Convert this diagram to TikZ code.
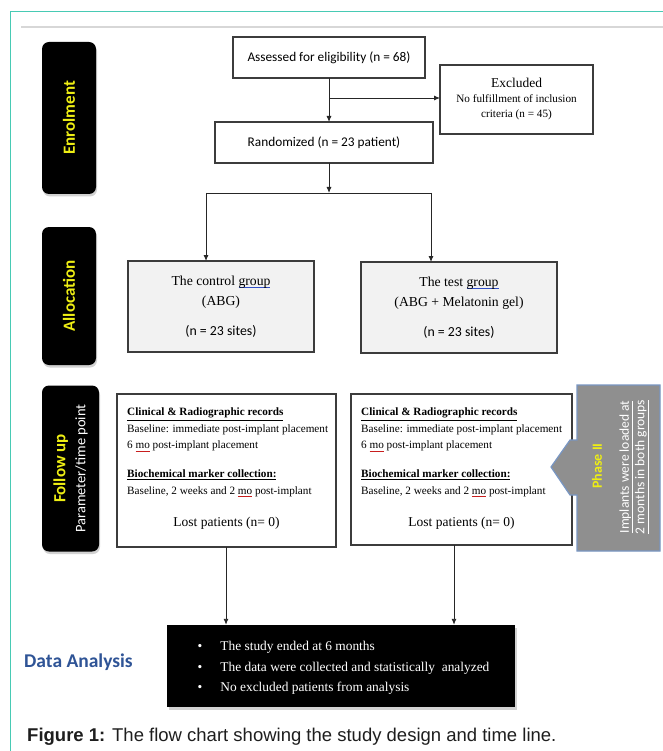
\documentclass[tikz,border=0pt]{standalone}
\usepackage{fontspec}
\setmainfont{Liberation Serif}
\newfontfamily\calfont{Carlito}
\newfontfamily\arialfont{Liberation Sans}
\usetikzlibrary{arrows.meta,shadows}
\definecolor{teal}{RGB}{72,202,180}
\definecolor{topline}{RGB}{215,215,215}
\definecolor{boxline}{RGB}{60,60,60}
\definecolor{allocfill}{RGB}{242,242,242}
\definecolor{yel}{RGB}{238,238,20}
\definecolor{phasegray}{RGB}{143,143,143}
\definecolor{phaseborder}{RGB}{120,150,195}
\definecolor{dablue}{RGB}{47,84,150}
\definecolor{captext}{RGB}{30,30,30}
\definecolor{wavered}{RGB}{200,30,30}
\definecolor{waveblue}{RGB}{50,80,200}
\newsavebox\mkbox
\newcommand\markul[2]{\sbox\mkbox{#2}\rlap{\textcolor{#1}{\rule[-2.4pt]{\wd\mkbox}{0.8pt}}}\usebox\mkbox}
\begin{document}
\begin{tikzpicture}[x=1pt,y=-1pt,
  box/.style={draw=boxline, line width=1.2pt, inner sep=0pt, outer sep=0pt, align=center},
  sidebox/.style={fill=black, rounded corners=7pt, inner sep=0pt, minimum width=54pt,
     drop shadow={shadow xshift=1pt, shadow yshift=-2.5pt, opacity=.35}},
  sidetxt/.style={rotate=90, text=yel, font=\calfont\bfseries\fontsize{17}{20}\selectfont, inner sep=0pt},
  arr/.style={draw=black!85, line width=0.9pt, -{Latex[length=6pt,width=5pt]}},
  ln/.style={draw=black!85, line width=0.9pt},
  calib/.style={font=\calfont\fontsize{13.3}{16}\selectfont}
]
\useasboundingbox (0,0) rectangle (662,751);
\fill[white] (0,0) rectangle (662,751);
% frame
\draw[teal, line width=1.2pt] (10.5,752) -- (10.5,11.5) -- (663,11.5);
\draw[topline, line width=1.5pt] (21,27) -- (663,27);

% side labels
\node[sidebox, minimum height=152pt] (enrol) at (69,118) {};
\node[sidetxt] (enrolT) at (enrol) {Enrolment};
\node[sidebox, minimum height=138pt] (alloc) at (69,296) {};
\node[sidetxt] (allocT) at (alloc) {Allocation};
\node[sidebox, minimum width=57pt, minimum height=166pt] (follow) at (70.5,468.5) {};
\node[rotate=90, inner sep=0pt, align=center, font=\calfont\fontsize{14.5}{20}\selectfont] (followT) at (follow)
  {\textcolor{yel}{\bfseries\fontsize{17}{20}\selectfont Follow up}\\ \textcolor{white}{Parameter/time point}};

% enrolment boxes
\node[box, calib, minimum width=192pt, minimum height=41pt] (assess) at (329,57.5) {Assessed for eligibility (n = 68)};
\node[box, calib, minimum width=218pt, minimum height=41pt] (random) at (324,142.5) {Randomized (n = 23 patient)};
\node[box, minimum width=153pt, minimum height=69pt, font=\fontsize{11.2}{15}\selectfont] (excl) at (516.5,99.5)
  {{\fontsize{13.5}{19}\selectfont Excluded}\\ No fulfillment of inclusion\\ criteria (n = 45)};

% allocation boxes
\node[box, fill=allocfill, minimum width=186pt, minimum height=91pt, font=\fontsize{13.7}{20}\selectfont] (ctrl) at (221,306.5)
  {The control \markul{waveblue}{group}\\ (ABG)\\[10pt] {\calfont\fontsize{13.8}{16}\selectfont(n = 23 sites)}};
\node[box, fill=allocfill, minimum width=196pt, minimum height=91pt, font=\fontsize{13.7}{20}\selectfont] (test) at (459,307.5)
  {The test \markul{waveblue}{group}\\ (ABG + Melatonin gel)\\[10pt] {\calfont\fontsize{13.8}{16}\selectfont(n = 23 sites)}};

% follow up boxes
\node[box, minimum width=219pt, minimum height=153pt] (folL) at (226.5,470.5) {};
\node[box, minimum width=221pt, minimum height=151pt] (folR) at (461.5,469.5) {};
\node[anchor=north west, inner sep=0pt, align=left, font=\fontsize{11.2}{16.5}\selectfont] (folLT) at (127,408)
  {\underline{\textbf{Clinical \& Radiographic records}}\\
   Baseline: immediate post-implant placement\\
   6 \markul{wavered}{mo} post-implant placement\\[12.5pt]
   \underline{\textbf{Biochemical marker collection:}}\\
   Baseline, 2 weeks and 2 \markul{wavered}{mo} post-implant};
\node[anchor=north west, inner sep=0pt, align=left, font=\fontsize{11.2}{16.5}\selectfont] (folRT) at (361,408)
  {\underline{\textbf{Clinical \& Radiographic records}}\\
   Baseline: immediate post-implant placement\\
   6 \markul{wavered}{mo} post-implant placement\\[12.5pt]
   \underline{\textbf{Biochemical marker collection:}}\\
   Baseline, 2 weeks and 2 \markul{wavered}{mo} post-implant};
\node[font=\fontsize{13.5}{16}\selectfont, inner sep=0pt] (lostL) at (226.5,523) {Lost patients (n= 0)};
\node[font=\fontsize{13.5}{16}\selectfont, inner sep=0pt] (lostR) at (461.5,523) {Lost patients (n= 0)};

% phase II callout
\draw[fill=phasegray, draw=phaseborder, line width=1.2pt]
  (577,385) -- (660,385) -- (660,551) -- (577,551) -- (577,495) -- (570,495) -- (551,467)
  -- (570,440) -- (577,440) -- cycle;
\node[rotate=90, inner sep=0pt, text=yel, font=\calfont\bfseries\fontsize{14}{16}\selectfont] (phaseT) at (597,466) {Phase II};
\node[rotate=90, inner sep=0pt, align=center, text=white, font=\calfont\fontsize{13.5}{15.5}\selectfont] (phaseN) at (634,467)
  {\underline{Implants were loaded at}\\ \underline{2 months in both groups}};

% data analysis
\node[fill=black, minimum width=348pt, minimum height=82pt, inner sep=0pt,
  drop shadow={shadow xshift=1.5pt, shadow yshift=-2.5pt, opacity=.35}] (data) at (341,666) {};
\node[anchor=north west, inner sep=0pt, text=white, font=\fontsize{13.4}{20.5}\selectfont] (dataT) at (197.5,636)
  {\begin{tabular}{@{}l@{\hspace{18pt}}l@{}}
   \textbullet & The study ended at 6 months\\
   \textbullet & The data were collected and statistically\ \ analyzed\\
   \textbullet & No excluded patients from analysis
   \end{tabular}};
\node[anchor=west, inner sep=0pt, text=dablue, font=\calfont\bfseries\fontsize{19.5}{22}\selectfont] (daL) at (24,662) {Data Analysis};

% caption
\node[anchor=west, inner sep=0pt, text=captext, font=\arialfont\fontsize{18.5}{21}\selectfont] (cap) at (27,737)
  {\textbf{Figure 1:} The flow chart showing the study design and time line.};

% connectors
\coordinate (br) at (329,98);
\coordinate (sp) at (329,193);
\coordinate (sl) at (206,193);
\coordinate (sr) at (431,193);
\coordinate (al) at (226,600);
\coordinate (ar) at (454,600);
\draw[arr] (assess.south -| br) -- (random.north -| br);
\draw[arr] (br) -- (br -| excl.west);
\draw[arr] (random.south -| sp) -- (sp);
\draw[ln] (sl) -- (sr);
\draw[arr] (sl) -- (sl |- ctrl.north);
\draw[arr] (sr) -- (sr |- test.north);
\draw[arr] (folL.south -| al) -- (data.north -| al);
\draw[arr] (folR.south -| ar) -- (data.north -| ar);
\end{tikzpicture}
\end{document}
